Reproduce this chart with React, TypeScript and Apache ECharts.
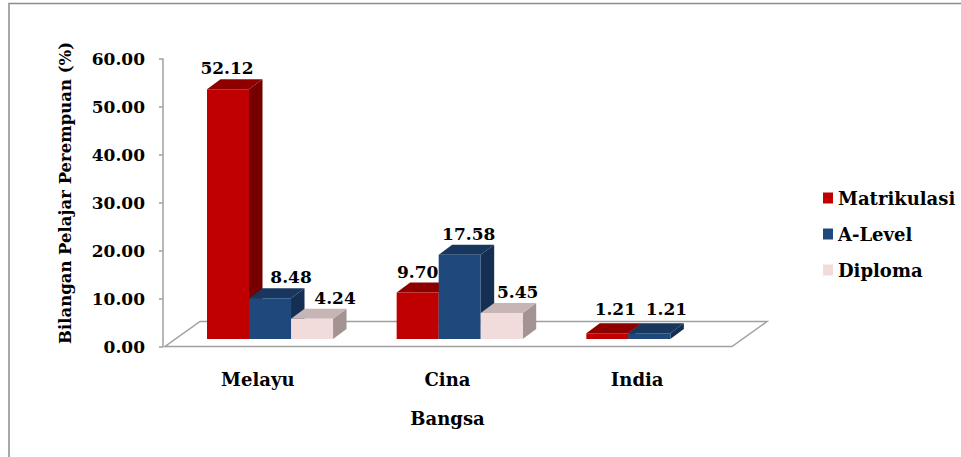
import React, { useEffect, useRef } from "react";
import * as echarts from "echarts";

const CATEGORIES = ["Melayu", "Cina", "India"];
const SERIES_NAMES = ["Matrikulasi", "A-Level", "Diploma"];
const MATRIKULASI = [52.12, 9.7, 1.21];
const A_LEVEL = [8.48, 17.58, 1.21];
const DIPLOMA: (number | null)[] = [4.24, 5.45, null];
const Y_MIN = 0;
const Y_MAX = 60;
const Y_STEP = 10;

const FONT = "DejaVu Serif";
const FACE_COLORS = [
  { front: "#C00000", top: "#8E0000", side: "#760000" },
  { front: "#1F497D", top: "#17375E", side: "#152F52" },
  { front: "#F2DCDB", top: "#C6B5B4", side: "#A39392" },
];
// label horizontal nudges per category / series (style only)
const LABEL_DX = [
  [-1, 21, 23],
  [0, 9, 16],
  [8, 17, 0],
];

export default function App() {
  const ref = useRef<HTMLDivElement>(null);

  useEffect(() => {
    document.body.style.margin = "0";
    const chart = echarts.init(ref.current!, null, { renderer: "svg" });
    const allValues = [MATRIKULASI, A_LEVEL, DIPLOMA];

    const OFFSET = 0.232;
    const BARW = 0.2215;
    const DX = 13.5;
    const DY = 10;
    const FRONT_SHIFT = 7.5;

    const barRender = (s: number) => (params: any, api: any) => {
      const cat = api.value(0);
      const v = api.value(1);
      if (v == null || isNaN(v)) return null;
      const base = api.coord([cat, 0]);
      const top = api.coord([cat, v]);
      const bw = api.size([1, 0])[0];
      const bandStart = base[0] - bw / 2;
      const w = bw * BARW;
      const x0 = bandStart + bw * OFFSET + s * w;
      const x1 = x0 + w;
      const yb = base[1] - FRONT_SHIFT;
      const yt = top[1] - FRONT_SHIFT;
      const c = FACE_COLORS[s];
      return {
        type: "group",
        children: [
          {
            type: "polygon",
            shape: { points: [[x1, yb], [x1 + DX, yb - DY], [x1 + DX, yt - DY], [x1, yt]] },
            style: { fill: c.side, stroke: null },
          },
          {
            type: "polygon",
            shape: { points: [[x0, yt], [x0 + DX, yt - DY], [x1 + DX, yt - DY], [x1, yt]] },
            style: { fill: c.top, stroke: null },
          },
          {
            type: "rect",
            shape: { x: x0, y: yt, width: w, height: yb - yt },
            style: { fill: c.front, stroke: null },
          },
          {
            type: "text",
            style: {
              text: v.toFixed(2),
              x: (x0 + x1) / 2 + LABEL_DX[cat][s],
              y: cat === 2 ? yt - 24 : yt - 21,
              align: "center",
              verticalAlign: "middle",
              fontFamily: FONT,
              fontWeight: "bold",
              fontSize: 17,
              fill: "#000",
            },
          },
        ],
      };
    };

    const floorRender = (params: any, api: any) => {
      const cs = params.coordSys;
      const x = cs.x;
      const yb = cs.y + cs.height;
      const w = cs.width;
      return {
        type: "polygon",
        shape: {
          points: [
            [x + 2, yb],
            [x + w, yb],
            [x + w + 35, yb - 25],
            [x + 37, yb - 25],
          ],
        },
        style: { fill: "#fff", stroke: "#A0A0A0", lineWidth: 1.5 },
      };
    };

    const series: any[] = [
      {
        type: "custom",
        name: "floor",
        renderItem: floorRender,
        data: [[0, 0]],
        encode: { x: 0, y: 1 },
        silent: true,
        z: 1,
      },
    ];
    SERIES_NAMES.forEach((name, s) => {
      series.push({
        type: "custom",
        name,
        renderItem: barRender(s),
        itemStyle: { color: FACE_COLORS[s].front },
        data: CATEGORIES.map((_, i) => [i, allValues[s][i]]),
        encode: { x: 0, y: 1 },
        z: 2,
      });
    });

    chart.setOption({
      animation: false,
      backgroundColor: "#fff",
      grid: { left: 163, top: 59, width: 569, height: 287.5, containLabel: false },
      xAxis: {
        type: "category",
        data: CATEGORIES,
        boundaryGap: true,
        axisLine: { show: false },
        axisTick: { show: false },
        axisLabel: {
          margin: 24,
          fontFamily: FONT,
          fontWeight: "bold",
          fontSize: 18,
          color: "#000",
        },
        name: "Bangsa",
        nameLocation: "middle",
        nameGap: 63,
        nameTextStyle: { fontFamily: FONT, fontWeight: "bold", fontSize: 18, color: "#000" },
        splitLine: { show: false },
      },
      yAxis: {
        type: "value",
        min: Y_MIN,
        max: Y_MAX,
        interval: Y_STEP,
        axisLine: { show: true, lineStyle: { color: "#A0A0A0", width: 1.5 } },
        axisTick: { show: true, length: 4, lineStyle: { color: "#A0A0A0", width: 1.5 } },
        splitLine: { show: false },
        axisLabel: {
          margin: 18,
          formatter: (v: number) => v.toFixed(2),
          fontFamily: FONT,
          fontWeight: "bold",
          fontSize: 17,
          color: "#000",
        },
      },
      legend: {
        data: SERIES_NAMES,
        orient: "vertical",
        left: 818,
        top: 184,
        itemWidth: 10,
        itemHeight: 11,
        itemGap: 18,
        icon: "rect",
        textStyle: { fontFamily: FONT, fontWeight: "bold", fontSize: 18, color: "#000" },
      },
      graphic: [
        {
          type: "rect",
          shape: { x: 9, y: 3.5, width: 1000, height: 1000 },
          style: { fill: "none", stroke: "#8C8C8C", lineWidth: 1.5 },
          silent: true,
          z: 0,
        },
        {
          type: "text",
          x: 65,
          y: 193,
          rotation: Math.PI / 2,
          style: {
            text: "Bilangan Pelajar Perempuan (%)",
            align: "center",
            verticalAlign: "middle",
            fontFamily: FONT,
            fontWeight: "bold",
            fontSize: 16.5,
            fill: "#000",
          },
          z: 10,
        },
      ],
      series,
    });

    return () => chart.dispose();
  }, []);

  return (
    <div
      ref={ref}
      style={{ position: "absolute", left: 0, top: 0, width: 961, height: 457 }}
    />
  );
}
